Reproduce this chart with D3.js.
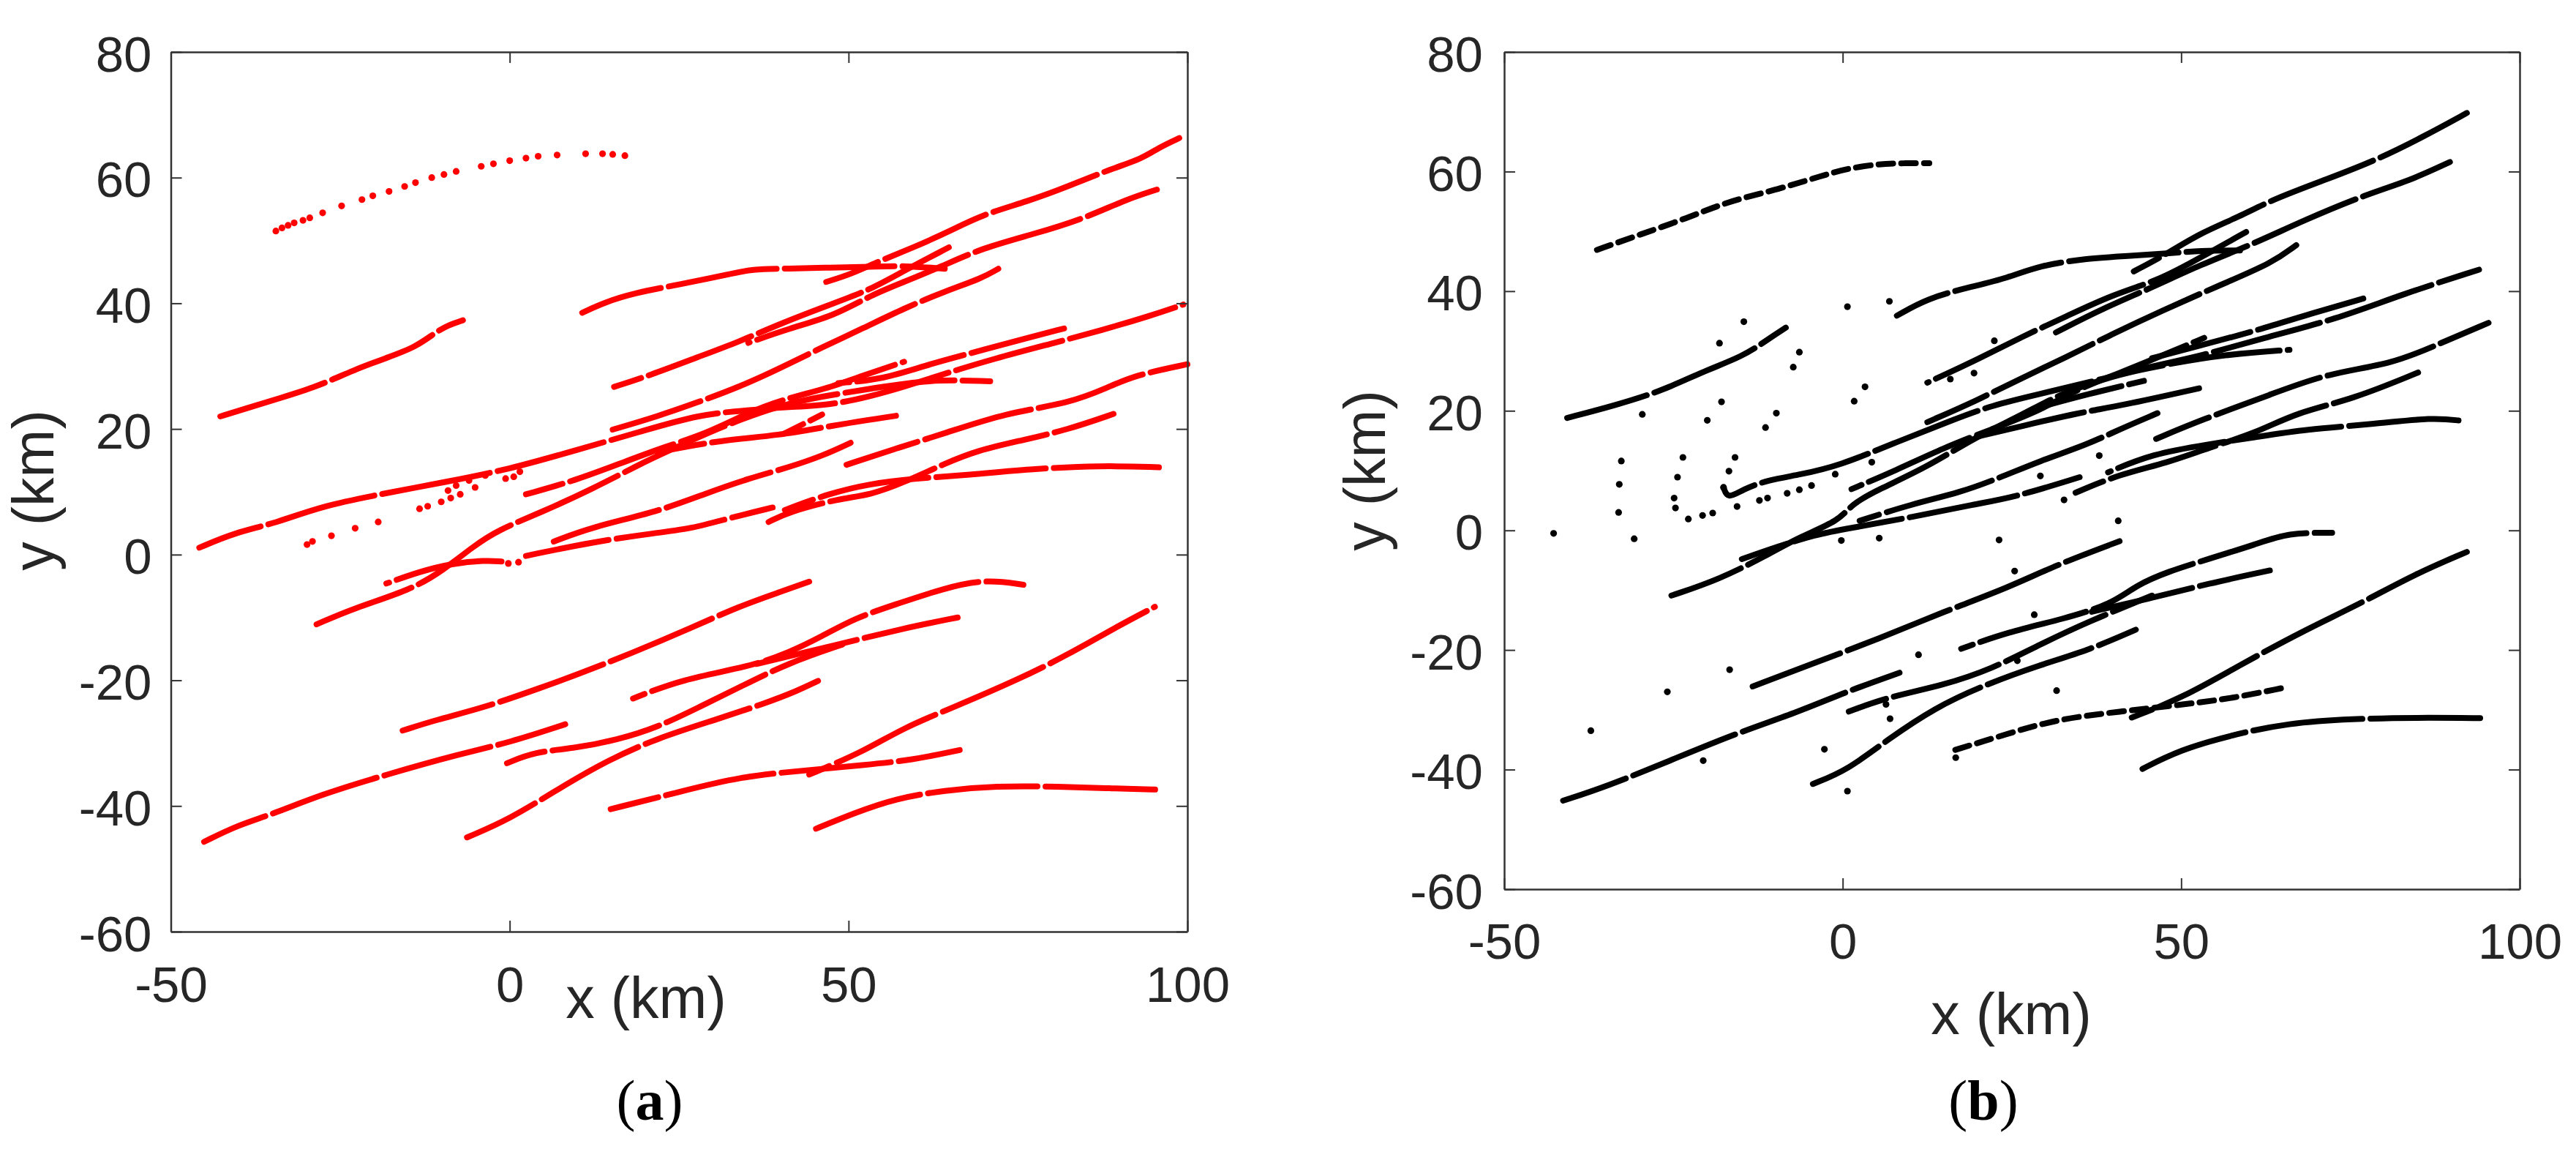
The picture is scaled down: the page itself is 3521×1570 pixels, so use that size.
<!DOCTYPE html>
<html>
<head>
<meta charset="utf-8">
<script src="https://cdn.jsdelivr.net/npm/d3@7"></script>
<style>
  html, body { margin: 0; padding: 0; background: #fff; }
  svg { display: block; }
  text { font-family: "Liberation Sans", Arial, sans-serif; fill: #262626; }
</style>
</head>
<body>
<svg id="fig" width="3521" height="1570"></svg>
<script>
const xDomain = [-50, 100];
const yDomain = [-60, 80];
const xTicks = [-50, 0, 50, 100];
const yTicks = [-60, -40, -20, 0, 20, 40, 60, 80];

// km
const tracksA = [
  [[-42.7,22],[-38.8,23.3],[-33.9,24.9],[-28.5,26.7],[-23,29.4],[-18.2,31.3],[-13.9,33],[-10.9,35.4],[-9.1,36.5],[-6.9,37.3]],
  [[10.7,38.5],[13.9,40.1],[18.2,41.6],[25.5,43.1],[31.5,44.4],[35.8,45.5],[41.2,45.5],[47.3,45.7],[53.3,45.8],[58.2,46],[64.2,45.5]],
  [[46.7,43.4],[50.3,44.6],[54.5,46.7],[59.4,48.8],[64.8,51.4],[69.7,54.1],[76.4,56.2],[82.4,58.6],[88.5,61.3],[93.3,63],[95.8,64.8],[98.8,66.3]],
  [[15.4,26.7],[20.6,28.5],[27.9,31.5],[33.9,33.9],[40,36.8],[47.3,39.8],[53.3,42.2],[58.2,45.2],[64.8,48.9]],
  [[35.2,33.7],[41.2,36],[47.9,38],[53.3,41.3],[58.2,43.4],[63.6,45.8],[69.7,48.8],[77.6,51.1],[84.8,53.5],[90.9,56.5],[95.5,58.1]],
  [[15.2,19.9],[21.8,22],[27.9,24.3],[33.9,26.7],[40,29.7],[46.1,33],[52.1,36],[58.2,39.2],[64.2,41.9],[69.7,44],[72.1,45.5]],
  [[-45.8,1.1],[-40.6,3.5],[-34.5,5],[-27.9,7.7],[-18.2,9.8],[-9.7,11.5],[0,13.6],[9.7,16.6],[19.4,19.6],[27.9,22.3],[35.2,23],[41.2,23.5],[47.3,23.8],[53.3,25.2],[58.2,26.7],[64.2,28.8],[71.5,31.2],[80,33.6],[87.3,35.7],[94.5,38],[99.4,39.8]],
  [[2.4,9.6],[9.7,11.8],[17,14.8],[23,17.2],[29.1,19.3],[35.2,22.6],[40,24.6],[46.7,26.4],[52.1,28.5],[58.2,30.7]],
  [[48.5,27.3],[55.2,27.9],[61.8,30.3],[70.3,32.7],[76.4,34.5],[81.8,36]],
  [[-28.5,-11.1],[-23,-8.5],[-14.5,-5.6],[-9.7,-2.4],[-5.5,1.2],[-1.8,3.9],[4.8,6.8],[12.1,10.4],[19.4,14.5],[23,16.3],[31.5,20.5],[40,23.8],[46.1,25.2],[53.3,26.4],[61.8,27.9],[70.9,27.6]],
  [[49.7,14.3],[57,16.9],[64.2,19.3],[73.3,22.6],[82.4,24],[88.5,26.7],[92.1,28.5],[100,30.3]],
  [[21.8,16.3],[30.3,18.1],[40,19],[47.3,20.5],[57,22.1]],
  [[40.6,19.3],[46.1,22.3]],
  [[6.3,2],[12.1,4.4],[21.8,6.8],[29.1,9.8],[35.2,12.1],[41.2,13.9],[46.1,15.7],[50.3,17.8]],
  [[2.4,-0.2],[12.1,2],[21.8,3.5],[26.7,4.1],[32.7,5.9],[38.8,7.5]],
  [[38.2,5.2],[41.2,6.8],[48.5,8.9],[53.3,9.5],[58.2,11.5],[64.2,14.5],[69.1,16.6],[75.2,18.1],[82.4,19.9],[89.1,22.4]],
  [[40.6,7.1],[47.3,9.8],[53.3,11.3],[59.4,12.1],[67.9,12.7],[76.4,13.6],[87.3,14.2],[95.8,13.9]],
  [[-18.2,-4.6],[-13.3,-2.7],[-8.5,-1.4],[-3.6,-0.9],[-1.2,-1.1]],
  [[-15.8,-28],[-10.9,-26.3],[-3.6,-24.3],[4.8,-21.1],[9.7,-19.2],[18.2,-15.6],[26.7,-11.7],[33.9,-8.2],[40,-5.9],[44.2,-4.3]],
  [[-45.1,-45.7],[-40,-43],[-35.2,-41.4],[-27.9,-38.2],[-18.2,-35],[-7.3,-31.7],[0,-29.9],[8.2,-27]],
  [[-0.4,-33.2],[3.6,-31.4],[9.7,-30.8],[15.8,-29.5],[21.8,-27.5],[27.9,-24.3],[33.9,-21.1],[41.2,-17.2],[49.1,-14.3]],
  [[18.2,-22.9],[25.5,-19.8],[35.2,-17.9],[41.2,-15.6],[46.1,-13],[50.9,-10.1],[57,-7.9],[64.2,-5.3],[70.3,-3.9],[75.8,-4.8]],
  [[36.4,-17.4],[48.5,-14.3],[58.2,-11.7],[66.1,-10]],
  [[-6.3,-45],[0,-42.1],[7.3,-37.2],[14.5,-32.7],[21.8,-29.2],[30.3,-26.3],[37.6,-23.7],[42.4,-21.7],[45.5,-20.1]],
  [[14.9,-40.5],[24.2,-38],[33.9,-35.3],[44.2,-34.3],[52.1,-33.5],[59.4,-32.7],[66.4,-31.1]],
  [[44.2,-35],[52.1,-31.4],[58.2,-27.5],[65.5,-24.3],[75.2,-19.8],[82.4,-15.9],[89.7,-11.4],[95.2,-8.3]],
  [[44.8,-43.8],[50.9,-41.1],[57,-38.8],[64.2,-37.5],[71.5,-36.8],[81.2,-36.9],[88.5,-37.2],[96,-37.4]]
];
// isolated dots of panel (a), including the broken top track
const dotsA = [
  [-34.5,51.5],[-33.6,52],[-32.7,52.4],[-31.8,52.8],[-30.5,53.2],[-29.5,53.6],[-27.6,54.4],[-24.8,55.5],[-21.8,56.5],[-20.2,57.1],[-17.8,57.8],[-15.5,58.6],[-13.9,59.2],[-11.5,60],[-9.7,60.5],[-7.9,61],[-4.2,61.8],[-2.4,62.2],[0,62.7],[2.4,63.1],[4.2,63.4],[7,63.6],[11.2,63.8],[13.7,63.8],[15.2,63.7],[17,63.5],
  [-29.9,1.6],[-29.1,2.1],[-26.3,3],[-22.8,4.2],[-19.4,5.2],[-13.3,7.3],[-12.1,7.7],[-10.1,8.4],[-8.7,9],[-7.3,9.6],[-5.1,10.7],[-9.1,10.2],[-7.9,11],[-6,11.8],[-3.6,12.6],[-0.6,12.1],[0.6,12.4],[1.5,13.2],
  [-0.2,-1.4],[1.3,-1.2]
];

// km
const tracksB = [
  [[-36.3,46.9],[-30.1,49.4],[-23,52.2],[-17,55],[-9.9,56.9],[-2.8,59.4],[0.7,60.5],[5.4,61.3],[9,61.4],[12.8,61.4]],
  [[-40.7,18.8],[-33.6,20.9],[-26.5,23.4],[-20.6,26.6],[-14.7,29.1],[-11.1,31.9],[-8.4,33.9]],
  [[8,35.9],[12.5,38.8],[18.5,40.6],[24.4,42.2],[29.1,44.3],[36.2,45.5],[42.1,45.9],[48,46.3],[52.8,46.8],[58.7,46.8]],
  [[43,43.3],[48,46.3],[52.8,49.7],[58.7,52.5],[63.4,55.3],[71.7,58.8],[78.8,61.9],[85.9,65.9],[92.2,69.8]],
  [[12.5,24.7],[19.6,28.4],[26.7,32.5],[32.7,35.6],[39.8,39.4],[46.9,41.9],[52.8,45.6],[59.6,49.9]],
  [[31.5,33.1],[38.6,37.2],[45.7,40.6],[52.8,44.4],[60.5,47.8],[68.2,51.9],[77.6,56.3],[83.6,58.4],[89.7,61.6]],
  [[12.5,18.1],[19.6,21.6],[26.7,25.6],[32.7,28.8],[39.8,32.8],[46.9,36.6],[56.3,41.3],[63.4,44.7],[67,47.7]],
  [[-17.6,7.2],[-17,5.2],[-14.7,6.9],[-11.1,8.4],[-6.4,9.3],[-0.5,10.8],[7.8,14.7],[16.1,18.4],[22,20.9],[29.1,22.8],[36.2,24.7],[45.7,27.5],[52.8,29.1],[62.2,32.2],[72.9,35.3],[82.4,39.4],[94,43.6]],
  [[1.3,6.9],[7.8,10],[14.9,13.8],[22,16.9],[29.1,20],[35,23.8],[40.9,26.3],[46.9,29.1],[53.4,32.2]],
  [[45.7,28.8],[52.8,30.9],[61.1,33.4],[69.3,36.3],[77,38.8]],
  [[-25.3,-10.9],[-18.2,-8.2],[-11.1,-4.1],[-6.4,-1.1],[-0.5,1.6],[1.3,4.4],[5.4,6.9],[12.5,10.6],[19.6,15.6],[26.7,19.4],[31.5,22.5],[39.8,25.9],[48,27.8],[56.3,29.4],[66,30.2]],
  [[-14.9,-4.8],[-9.9,-2.8],[-4,-0.7],[0.7,0.3],[10.2,2.2],[19.6,4.4],[25.6,5.6],[35,8.9]],
  [[2.5,1.6],[10.2,4.4],[17.3,6.3],[23.2,8.8],[29.1,11.6],[36.2,14.4],[40.9,16.9],[46.5,19.6]],
  [[19.6,15.6],[26.7,17.5],[35,19.7],[40.9,20.8],[52.8,23.8]],
  [[29.1,20.6],[36.2,22.8],[44.5,25]],
  [[46.3,15.3],[52.8,18.4],[63.4,22.8],[71.7,26.3],[81.2,27.8],[88.3,31.3],[95.4,34.7]],
  [[34.4,6.3],[40.9,9.4],[48,11.3],[54,13.8],[61.1,16.3],[67,19.7],[75.3,21.9],[85,26.4]],
  [[39.2,9.7],[45.7,12.8],[54,14.4],[61.1,15.6],[68.2,16.9],[78.8,17.8],[87.1,18.9],[91.6,18.3]],
  [[-13.3,-26.1],[-4,-22.1],[5.4,-18.1],[14.9,-13.6],[24.4,-9.6],[31.5,-5.8],[40.9,-1.8]],
  [[-41.3,-45.2],[-34.8,-42.8],[-25.3,-38.4],[-15.9,-34],[-6.4,-30.3],[0.7,-26.9],[8.4,-23.8]],
  [[0.9,-30.3],[6.6,-27.9],[14.9,-25.9],[22,-23.2],[29.1,-19.1],[36.2,-15.3],[45.7,-10.9]],
  [[17.5,-19.8],[24.4,-17],[32.7,-14.8],[39.8,-12.3],[43.3,-9.2],[48,-6.9],[54,-4.8],[61.1,-2.3],[65.8,-0.4],[72.3,-0.4]],
  [[36.8,-13.6],[45.7,-11.3],[54,-8.9],[63.1,-6.7]],
  [[-4.4,-42.4],[0.7,-40.1],[6.6,-35],[13.7,-29.6],[20.8,-25.9],[29.1,-22.5],[36.2,-20.1],[43.3,-16.6]],
  [[15.5,-37.1],[24.4,-34],[31.5,-31.6],[40.9,-30.3],[50.4,-29.1],[57.5,-28.1],[65.2,-26.3]],
  [[42.7,-31.3],[50.4,-27.9],[58.7,-22.5],[68.2,-16.7],[76.4,-12.3],[84.7,-7.2],[92.2,-3.6]],
  [[43.9,-40.1],[49.8,-36.7],[57.5,-34.2],[65.8,-32.2],[75.3,-31.5],[84.7,-31.3],[94.8,-31.4]]
];
const dotsB = [
  [-42.7,-0.5],[-33.1,3],[-33,7.7],[-32.7,11.6],[-30.8,-1.4],[-29.6,19.4],[-24.7,3.75],[-24.9,5.4],[-24.4,8.9],[-23.6,12.2],
  [-22.8,1.9],[-20.7,2.5],[-19.2,2.9],[-20,18.4],[-17.9,21.5],[-18.2,31.3],[-14.6,34.9],[-16.8,9.9],[-17.6,7.2],[-15.9,12.2],
  [-15.6,4],[-12.3,5],[-11.1,5.4],[-8.2,6.2],[-6.4,6.8],[-4.6,7.5],[-11.4,17.2],[-9.8,19.6],[-7.3,27.3],[-6.4,29.8],
  [0.7,37.4],[6.9,38.3],[1.7,21.6],[3.3,24],[-0.2,-1.7],[5.4,-1.3],[4.3,11.4],[-1.1,9.4],[15.9,25.3],[19.4,26.3],
  [22.4,31.7],[23.1,-1.6],[29.2,9.1],[32.7,5.1],[37.9,12.5],[40.7,1.6],
  [25.4,-6.8],[28.3,-14.1],[11.2,-20.8],[-16.7,-23.3],[-25.9,-27],[-37.2,-33.5],[-20.6,-38.5],[-2.7,-36.6],[0.7,-43.6],[6.4,-29.1],[7,-31.5],[25.8,-21.8],[31.6,-26.8],[16.7,-38]
];

const svg = d3.select("#fig");

function drawPanel(p) {
  const x = d3.scaleLinear().domain(xDomain).range([p.left, p.right]);
  const y = d3.scaleLinear().domain(yDomain).range([p.bottom, p.top]);
  const g = svg.append("g");

  // ----------------------- marks
  // basis keeps the ends and irons out the wobble of hand-read vertices
  const line = d3.line().x(d => x(d[0])).y(d => y(d[1])).curve(d3.curveBasis);
  g.selectAll(".track")
    .data(p.tracks)
    .join("path")
    .attr("class", "track")
    .attr("d", line)
    .attr("fill", "none")
    .attr("stroke", p.color)
    .attr("stroke-width", 8)
    .attr("stroke-linecap", "round")
    .attr("stroke-linejoin", "round")
    .attr("stroke-dasharray", (_, i) => p.brokenTracks.includes(i) ? "20 11" : "150 11")
    .attr("stroke-dashoffset", (_, i) => i * 37);
  g.selectAll(".dot")
    .data(p.dots)
    .join("circle")
    .attr("class", "dot")
    .attr("cx", d => x(d[0]))
    .attr("cy", d => y(d[1]))
    .attr("r", 4.6)
    .attr("fill", p.color);

  // ----------------------- axes, ticks point inward on all four sides
  const tick = 15;
  const axes = [
    [d3.axisBottom(x).tickValues(xTicks).tickFormat(d => d), `translate(0,${p.bottom})`],
    [d3.axisTop(x).tickValues(xTicks).tickFormat(""), `translate(0,${p.top})`],
    [d3.axisLeft(y).tickValues(yTicks).tickFormat(d => d), `translate(${p.left},0)`],
    [d3.axisRight(y).tickValues(yTicks).tickFormat(""), `translate(${p.right},0)`]
  ];
  axes.forEach(([axis, tr]) => {
    const a = g.append("g")
      .attr("transform", tr)
      .call(axis.tickSizeInner(-tick).tickSizeOuter(0));
    a.selectAll("path").attr("stroke", "#333").attr("stroke-width", 2.5);
    a.selectAll("line").attr("stroke", "#333").attr("stroke-width", 2);
    a.selectAll("text").attr("font-size", 69).attr("fill", "#262626");
  });
  g.selectAll("g text").style("font-family", '"Liberation Sans", Arial, sans-serif');

  // axisBottom is first, axisLeft third
  const gs = g.selectAll(":scope > g");
  d3.select(gs.nodes()[0]).selectAll("text").attr("y", p.xTickDrop).attr("dy", 0);
  d3.select(gs.nodes()[2]).selectAll("text")
    .attr("x", -p.yTickGap)
    .attr("dy", 0)
    .attr("y", 26);

  // ----------------------- labels
  svg.append("text")
    .attr("x", p.xLabel[0]).attr("y", p.xLabel[1])
    .attr("text-anchor", "middle").attr("font-size", 79)
    .text("x (km)");
  svg.append("text")
    .attr("transform", `translate(${p.yLabel[0]},${p.yLabel[1]}) rotate(-90)`)
    .attr("text-anchor", "middle").attr("font-size", 79)
    .text("y (km)");

  const cap = svg.append("text")
    .attr("x", p.caption[0]).attr("y", p.caption[1])
    .attr("text-anchor", "middle").attr("font-size", 78)
    .style("font-family", '"Liberation Serif", "Times New Roman", serif')
    .style("fill", "#000");
  cap.append("tspan").text("(");
  cap.append("tspan").attr("font-weight", "bold").text(p.letter);
  cap.append("tspan").text(")");
}

drawPanel({
  left: 233.5, right: 1623, top: 71, bottom: 1273,
  tracks: tracksA, dots: dotsA, color: "#ff0000", brokenTracks: [],
  xTickDrop: 96, yTickGap: 26,
  xLabel: [883, 1391], yLabel: [73, 670], caption: [888, 1530], letter: "a"
});
drawPanel({
  left: 2056, right: 3444, top: 71, bottom: 1215,
  tracks: tracksB, dots: dotsB, color: "#000000", brokenTracks: [0, 24],
  xTickDrop: 95, yTickGap: 29,
  xLabel: [2749, 1413], yLabel: [1893, 643], caption: [2711, 1530], letter: "b"
});
</script>
</body>
</html>
